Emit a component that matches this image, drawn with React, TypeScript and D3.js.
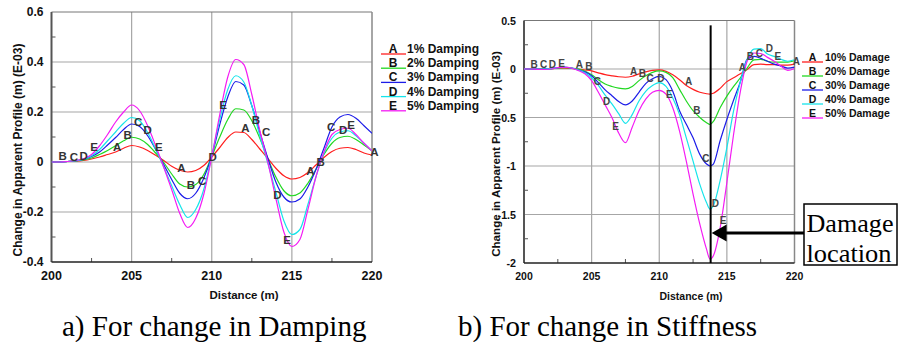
import React from 'react'
import * as d3 from 'd3'

// distance samples (m)
const distDamping = [
  200, 200.5, 201, 201.5, 202, 202.5, 203, 203.5, 204, 204.5,
  205, 205.5, 206, 206.5, 207, 207.5, 208, 208.5, 209, 209.5,
  210, 210.5, 211, 211.5, 212, 212.5, 213, 213.5, 214, 214.5,
  215, 215.5, 216, 216.5, 217, 217.5, 218, 218.5, 219, 219.5, 220,
]
const distStiffness = [
  200, 200.5, 201, 201.5, 202, 202.5, 203, 203.5, 204, 204.5,
  205, 205.5, 206, 206.5, 207, 207.5, 208, 208.5, 209, 209.5,
  210, 210.5, 211, 211.5, 212, 212.5, 213, 213.5, 213.75, 214, 214.5,
  215, 215.5, 216, 216.5, 217, 217.5, 218, 218.5, 219, 219.5, 220,
]

// a) change in damping, apparent profile change (E-03 m)
const damp1 = [0, 0, 0.002, 0.003, 0.006, 0.012, 0.02, 0.03, 0.04, 0.055, 0.066, 0.06, 0.046, 0.027, 0.006, -0.017, -0.033, -0.04, -0.034, -0.014, 0.02, 0.058, 0.098, 0.12, 0.118, 0.09, 0.052, 0.014, -0.025, -0.055, -0.068, -0.062, -0.042, -0.012, 0.018, 0.042, 0.055, 0.058, 0.05, 0.036, 0.028]
const damp2 = [0, 0, 0.002, 0.004, 0.008, 0.016, 0.03, 0.046, 0.065, 0.085, 0.099, 0.092, 0.07, 0.036, -0.002, -0.048, -0.088, -0.1, -0.09, -0.05, 0.022, 0.1, 0.17, 0.213, 0.208, 0.165, 0.095, 0.014, -0.06, -0.115, -0.135, -0.124, -0.085, -0.03, 0.03, 0.075, 0.098, 0.103, 0.09, 0.068, 0.045]
const damp3 = [0, 0, 0.002, 0.005, 0.01, 0.022, 0.04, 0.068, 0.098, 0.13, 0.152, 0.142, 0.105, 0.05, -0.01, -0.07, -0.125, -0.147, -0.125, -0.065, 0.024, 0.15, 0.26, 0.322, 0.308, 0.225, 0.12, 0.015, -0.08, -0.14, -0.16, -0.148, -0.1, -0.03, 0.055, 0.14, 0.18, 0.19, 0.175, 0.145, 0.115]
const damp4 = [0, 0, 0.002, 0.005, 0.011, 0.025, 0.05, 0.085, 0.12, 0.155, 0.178, 0.165, 0.118, 0.052, -0.02, -0.095, -0.17, -0.222, -0.19, -0.11, 0.025, 0.17, 0.29, 0.345, 0.32, 0.225, 0.105, -0.005, -0.12, -0.235, -0.29, -0.27, -0.17, -0.06, 0.035, 0.095, 0.12, 0.125, 0.105, 0.075, 0.045]
const damp5 = [0, 0, 0.002, 0.006, 0.013, 0.03, 0.065, 0.11, 0.16, 0.2, 0.228, 0.205, 0.145, 0.065, -0.02, -0.11, -0.205, -0.262, -0.225, -0.13, 0.02, 0.19, 0.34, 0.41, 0.39, 0.27, 0.125, 0, -0.145, -0.28, -0.338, -0.31, -0.19, -0.06, 0.04, 0.11, 0.13, 0.135, 0.11, 0.075, 0.045]

// b) change in stiffness
const dmg10 = [0, 0, 0, 0, 0.002, 0.008, 0.01, 0.005, 0, -0.01, -0.02, -0.04, -0.058, -0.07, -0.08, -0.085, -0.075, -0.05, -0.03, -0.015, -0.01, -0.025, -0.06, -0.11, -0.17, -0.21, -0.24, -0.255, -0.258, -0.25, -0.2, -0.13, -0.09, -0.05, -0.005, 0.045, 0.05, 0.045, 0.045, 0.04, 0.04, 0.05]
const dmg20 = [0, 0, 0, 0, 0.003, 0.01, 0.015, 0.01, 0, -0.02, -0.06, -0.11, -0.155, -0.18, -0.198, -0.205, -0.18, -0.12, -0.07, -0.035, -0.02, -0.035, -0.09, -0.21, -0.33, -0.43, -0.5, -0.555, -0.572, -0.54, -0.4, -0.28, -0.18, -0.09, 0.01, 0.095, 0.1, 0.08, 0.07, 0.07, 0.07, 0.085]
const dmg30 = [0, 0, 0, 0, 0.003, 0.013, 0.018, 0.01, -0.008, -0.03, -0.07, -0.14, -0.215, -0.275, -0.335, -0.37, -0.33, -0.24, -0.15, -0.1, -0.075, -0.11, -0.23, -0.43, -0.57, -0.71, -0.88, -0.98, -1.0, -0.98, -0.74, -0.52, -0.32, -0.13, 0.1, 0.13, 0.11, 0.08, 0.05, 0.03, 0.01, 0.02]
const dmg40 = [0, 0, 0, 0, 0.003, 0.015, 0.02, 0.01, -0.01, -0.04, -0.09, -0.17, -0.27, -0.36, -0.46, -0.56, -0.47, -0.33, -0.23, -0.17, -0.14, -0.18, -0.3, -0.47, -0.71, -0.95, -1.19, -1.38, -1.445, -1.41, -1.15, -0.81, -0.43, -0.13, 0.1, 0.205, 0.21, 0.155, 0.13, 0.1, 0.08, 0.095]
const dmg50 = [0, 0, -0.003, -0.005, 0, 0.015, 0.02, 0.01, -0.015, -0.05, -0.12, -0.24, -0.37, -0.5, -0.66, -0.76, -0.6, -0.43, -0.31, -0.24, -0.22, -0.26, -0.4, -0.64, -0.95, -1.29, -1.6, -1.86, -1.96, -1.925, -1.64, -1.17, -0.67, -0.23, 0.08, 0.165, 0.16, 0.12, 0.08, 0.03, -0.015, 0.005]

const letters = ['A', 'B', 'C', 'D', 'E']
const dampingNames = ['1% Damping', '2% Damping', '3% Damping', '4% Damping', '5% Damping']
const damageNames = ['10% Damage', '20% Damage', '30% Damage', '40% Damage', '50% Damage']

const xTicks = [200, 205, 210, 215, 220]
const xMinor = [202.5, 207.5, 212.5, 217.5]
const dampYTicks = [-0.4, -0.2, 0, 0.2, 0.4, 0.6]
const dampYLabels = ['-0.4', '-0.2', '0', '0.2', '0.4', '0.6']
const dampYMinor = [-0.3, -0.1, 0.1, 0.3, 0.5]
const dmgYTicks = [-2, -1.5, -1, -0.5, 0, 0.5]
const dmgYLabels = ['-2', '-1.5', '-1', '-0.5', '0', '0.5']
const dmgYMinor = [-1.75, -1.25, -0.75, -0.25, 0.25]

// curve letter markers [letter, distance, value]
const dampMarks: [string, number, number][] = [
  ['B', 200.7, 0.025], ['C', 201.4, 0.022], ['D', 202.0, 0.025], ['E', 202.65, 0.06],
  ['A', 204.1, 0.062], ['B', 204.75, 0.11], ['C', 205.4, 0.162], ['D', 206.0, 0.13], ['E', 206.7, 0.06],
  ['A', 208.1, -0.025], ['B', 208.7, -0.09], ['C', 209.4, -0.075], ['D', 210.05, 0.02], ['E', 210.7, 0.23],
  ['A', 212.1, 0.135], ['B', 212.75, 0.17], ['C', 213.4, 0.12], ['D', 214.1, -0.13], ['E', 214.7, -0.31],
  ['A', 216.15, -0.035], ['B', 216.8, 0.0], ['C', 217.45, 0.14], ['D', 218.2, 0.13], ['E', 218.7, 0.15], ['A', 220.15, 0.04],
]
const dmgMarks: [string, number, number][] = [
  ['B', 200.75, 0.045], ['C', 201.45, 0.045], ['D', 202.1, 0.045], ['E', 202.77, 0.06],
  ['A', 204.1, 0.05], ['B', 204.8, 0.03], ['C', 205.43, -0.13], ['D', 206.1, -0.34], ['E', 206.77, -0.59],
  ['A', 208.1, -0.025], ['B', 208.76, -0.05], ['C', 209.33, -0.1], ['D', 210.12, -0.1], ['E', 210.74, -0.26],
  ['A', 212.17, -0.13], ['B', 212.79, -0.43], ['C', 213.45, -0.92], ['D', 214.15, -1.39], ['E', 214.72, -1.56],
  ['A', 216.15, 0.02], ['B', 216.74, 0.13], ['C', 217.4, 0.155], ['D', 218.15, 0.215], ['E', 218.77, 0.125], ['A', 220.13, 0.08],
]
const damageAt = 213.8
const arrowLevel = -1.69

const colors = ['#ff1e1e', '#22d822', '#1c1ce8', '#16e4ea', '#f41cf4']
const SANS = "'Liberation Sans', Arial, sans-serif"
const SERIF = "'Liberation Serif', 'Times New Roman', serif"

interface PanelProps {
  id: string
  xRange: [number, number]
  yRange: [number, number]
  yDomain: [number, number]
  yTicks: number[]
  yLabels: string[]
  yMinor: number[]
  dist: number[]
  series: number[][]
  marks: [string, number, number][]
  names: string[]
  tickFont: number
  xTickFont: number
  markFont: number
  markFill: string
  legend: { x0: number; x1: number; lx: number; tx: number; y0: number; dy: number; font: number }
  yTitle: { x: number; y: number; font: number }
  xTitle: { x: number; y: number; font: number }
  children?: (x: d3.ScaleLinear<number, number>, y: d3.ScaleLinear<number, number>) => React.ReactNode
}

const Panel: React.FC<PanelProps> = (p) => {
  const x = d3.scaleLinear().domain([200, 220]).range(p.xRange)
  const y = d3.scaleLinear().domain(p.yDomain).range(p.yRange)
  const [left, right] = p.xRange
  const [bottom, top] = p.yRange
  const line = d3.line<number>()
    .x((_, i) => x(p.dist[i]))
    .y(d => y(d))
    .curve(d3.curveMonotoneX)

  return (
    <g>
      <defs>
        <clipPath id={`clip-${p.id}`}>
          <rect x={left} y={top} width={right - left} height={bottom - top} />
        </clipPath>
      </defs>
      {/* grid */}
      {xTicks.slice(1, -1).map(t => (
        <line key={`gx${t}`} x1={x(t)} x2={x(t)} y1={top} y2={bottom} stroke="#a6a6a6" strokeWidth={1.2} />
      ))}
      {p.yTicks.slice(1, -1).map(t => (
        <line key={`gy${t}`} x1={left} x2={right} y1={y(t)} y2={y(t)} stroke="#a6a6a6" strokeWidth={1.2} />
      ))}
      {/* minor ticks */}
      {xMinor.map(t => (
        <line key={`mx${t}`} x1={x(t)} x2={x(t)} y1={bottom} y2={bottom - 4} stroke="#555" />
      ))}
      {p.yMinor.map(t => (
        <line key={`my${t}`} x1={left} x2={left + 4} y1={y(t)} y2={y(t)} stroke="#555" />
      ))}
      {/* frame */}
      <line x1={left} x2={right} y1={top} y2={top} stroke="#777" />
      <line x1={right} x2={right} y1={top} y2={bottom} stroke="#888" strokeWidth={1.5} />
      <line x1={left} x2={left} y1={top} y2={bottom} stroke="#555" strokeWidth={2} />
      <line x1={left} x2={right} y1={bottom} y2={bottom} stroke="#222" strokeWidth={1.5} />

      <g clipPath={`url(#clip-${p.id})`}>
        {p.series.map((s, i) => (
          <path key={i} d={line(s) || ''} fill="none" stroke={colors[i]} strokeWidth={1.2} />
        ))}
      </g>
      {p.children && p.children(x, y)}

      {p.marks.map(([l, dx, dy], i) => (
        <text key={`m${i}`} x={x(dx)} y={y(dy)} textAnchor="middle" dominantBaseline="central"
          fontFamily={SANS} fontSize={p.markFont} fontWeight="bold" fill={p.markFill}>{l}</text>
      ))}

      {/* tick labels */}
      {p.yTicks.map((t, i) => (
        <text key={`yl${t}`} x={left - 8} y={y(t)} textAnchor="end" dominantBaseline="central"
          fontFamily={SANS} fontSize={p.tickFont} fontWeight="bold" fill="#111">{p.yLabels[i]}</text>
      ))}
      {xTicks.map(t => (
        <text key={`xl${t}`} x={x(t)} y={280} textAnchor="middle"
          fontFamily={SANS} fontSize={p.xTickFont} fontWeight="bold" fill="#111">{t}</text>
      ))}
      <text x={p.xTitle.x} y={p.xTitle.y} textAnchor="middle" fontFamily={SANS}
        fontSize={p.xTitle.font} fontWeight="bold" fill="#111">Distance (m)</text>
      <text transform={`translate(${p.yTitle.x},${p.yTitle.y}) rotate(-90)`} textAnchor="middle"
        fontFamily={SANS} fontSize={p.yTitle.font} fontWeight="bold" fill="#111">
        Change in Apparent Profile (m) (E-03)
      </text>

      {/* legend */}
      {p.names.map((n, i) => {
        const ly = p.legend.y0 + i * p.legend.dy
        return (
          <g key={`lg${i}`}>
            <line x1={p.legend.x0} x2={p.legend.x1} y1={ly} y2={ly} stroke={colors[i]} strokeWidth={1.3} />
            <text x={p.legend.lx} y={ly - 1} textAnchor="middle" fontFamily={SANS}
              fontSize={p.legend.font} fontWeight="bold" fill="#111">{letters[i]}</text>
            <text x={p.legend.tx} y={ly - 1} fontFamily={SANS}
              fontSize={p.legend.font} fontWeight="bold" fill="#111">{n}</text>
          </g>
        )
      })}
    </g>
  )
}

const App: React.FC = () => {
  return (
    <svg width={898} height={342} style={{ position: 'absolute', left: 0, top: 0, background: '#fff' }}>
      <Panel
        id="damp"
        xRange={[51.5, 372]}
        yRange={[262, 12]}
        yDomain={[-0.4, 0.6]}
        yTicks={dampYTicks}
        yLabels={dampYLabels}
        yMinor={dampYMinor}
        dist={distDamping}
        series={[damp1, damp2, damp3, damp4, damp5]}
        marks={dampMarks}
        names={dampingNames}
        tickFont={12}
        xTickFont={12.5}
        markFont={11.5}
        markFill="#333"
        legend={{ x0: 381, x1: 406, lx: 393, tx: 407, y0: 54, dy: 14.2, font: 12 }}
        yTitle={{ x: 21.5, y: 150, font: 12 }}
        xTitle={{ x: 244, y: 299, font: 11.5 }}
      />
      <Panel
        id="dmg"
        xRange={[524, 794.5]}
        yRange={[263, 20.5]}
        yDomain={[-2, 0.5]}
        yTicks={dmgYTicks}
        yLabels={dmgYLabels}
        yMinor={dmgYMinor}
        dist={distStiffness}
        series={[dmg10, dmg20, dmg30, dmg40, dmg50]}
        marks={dmgMarks}
        names={damageNames}
        tickFont={10.7}
        xTickFont={10.5}
        markFont={10}
        markFill="#444"
        legend={{ x0: 802, x1: 823, lx: 812.5, tx: 825, y0: 62, dy: 14, font: 10.5 }}
        yTitle={{ x: 500, y: 154, font: 11.6 }}
        xTitle={{ x: 691, y: 300, font: 10.5 }}
      >
        {(x, y) => (
          <g>
            <line x1={x(damageAt)} x2={x(damageAt)} y1={y(0.45)} y2={y(-2)} stroke="#000" strokeWidth={2} />
            <line x1={804} x2={x(damageAt) + 14} y1={y(arrowLevel)} y2={y(arrowLevel)} stroke="#000" strokeWidth={3} />
            <path d={`M${x(damageAt) + 1},${y(arrowLevel)} L${x(damageAt) + 16},${y(arrowLevel) - 8.5} L${x(damageAt) + 16},${y(arrowLevel) + 8.5} Z`} fill="#000" />
          </g>
        )}
      </Panel>

      {/* damage location box */}
      <rect x={804} y={204} width={93} height={61} fill="#fff" stroke="#000" strokeWidth={1.5} />
      <text x={806.5} y={232} fontFamily={SERIF} fontSize={25} textLength={87} lengthAdjust="spacingAndGlyphs" fill="#000">Damage</text>
      <text x={806.5} y={262} fontFamily={SERIF} fontSize={25} textLength={85} lengthAdjust="spacingAndGlyphs" fill="#000">location</text>

      <text x={62} y={336} fontFamily={SERIF} fontSize={29} fill="#000">a) For change in Damping</text>
      <text x={458} y={336} fontFamily={SERIF} fontSize={29} fill="#000">b) For change in Stiffness</text>
    </svg>
  )
}

export default App
